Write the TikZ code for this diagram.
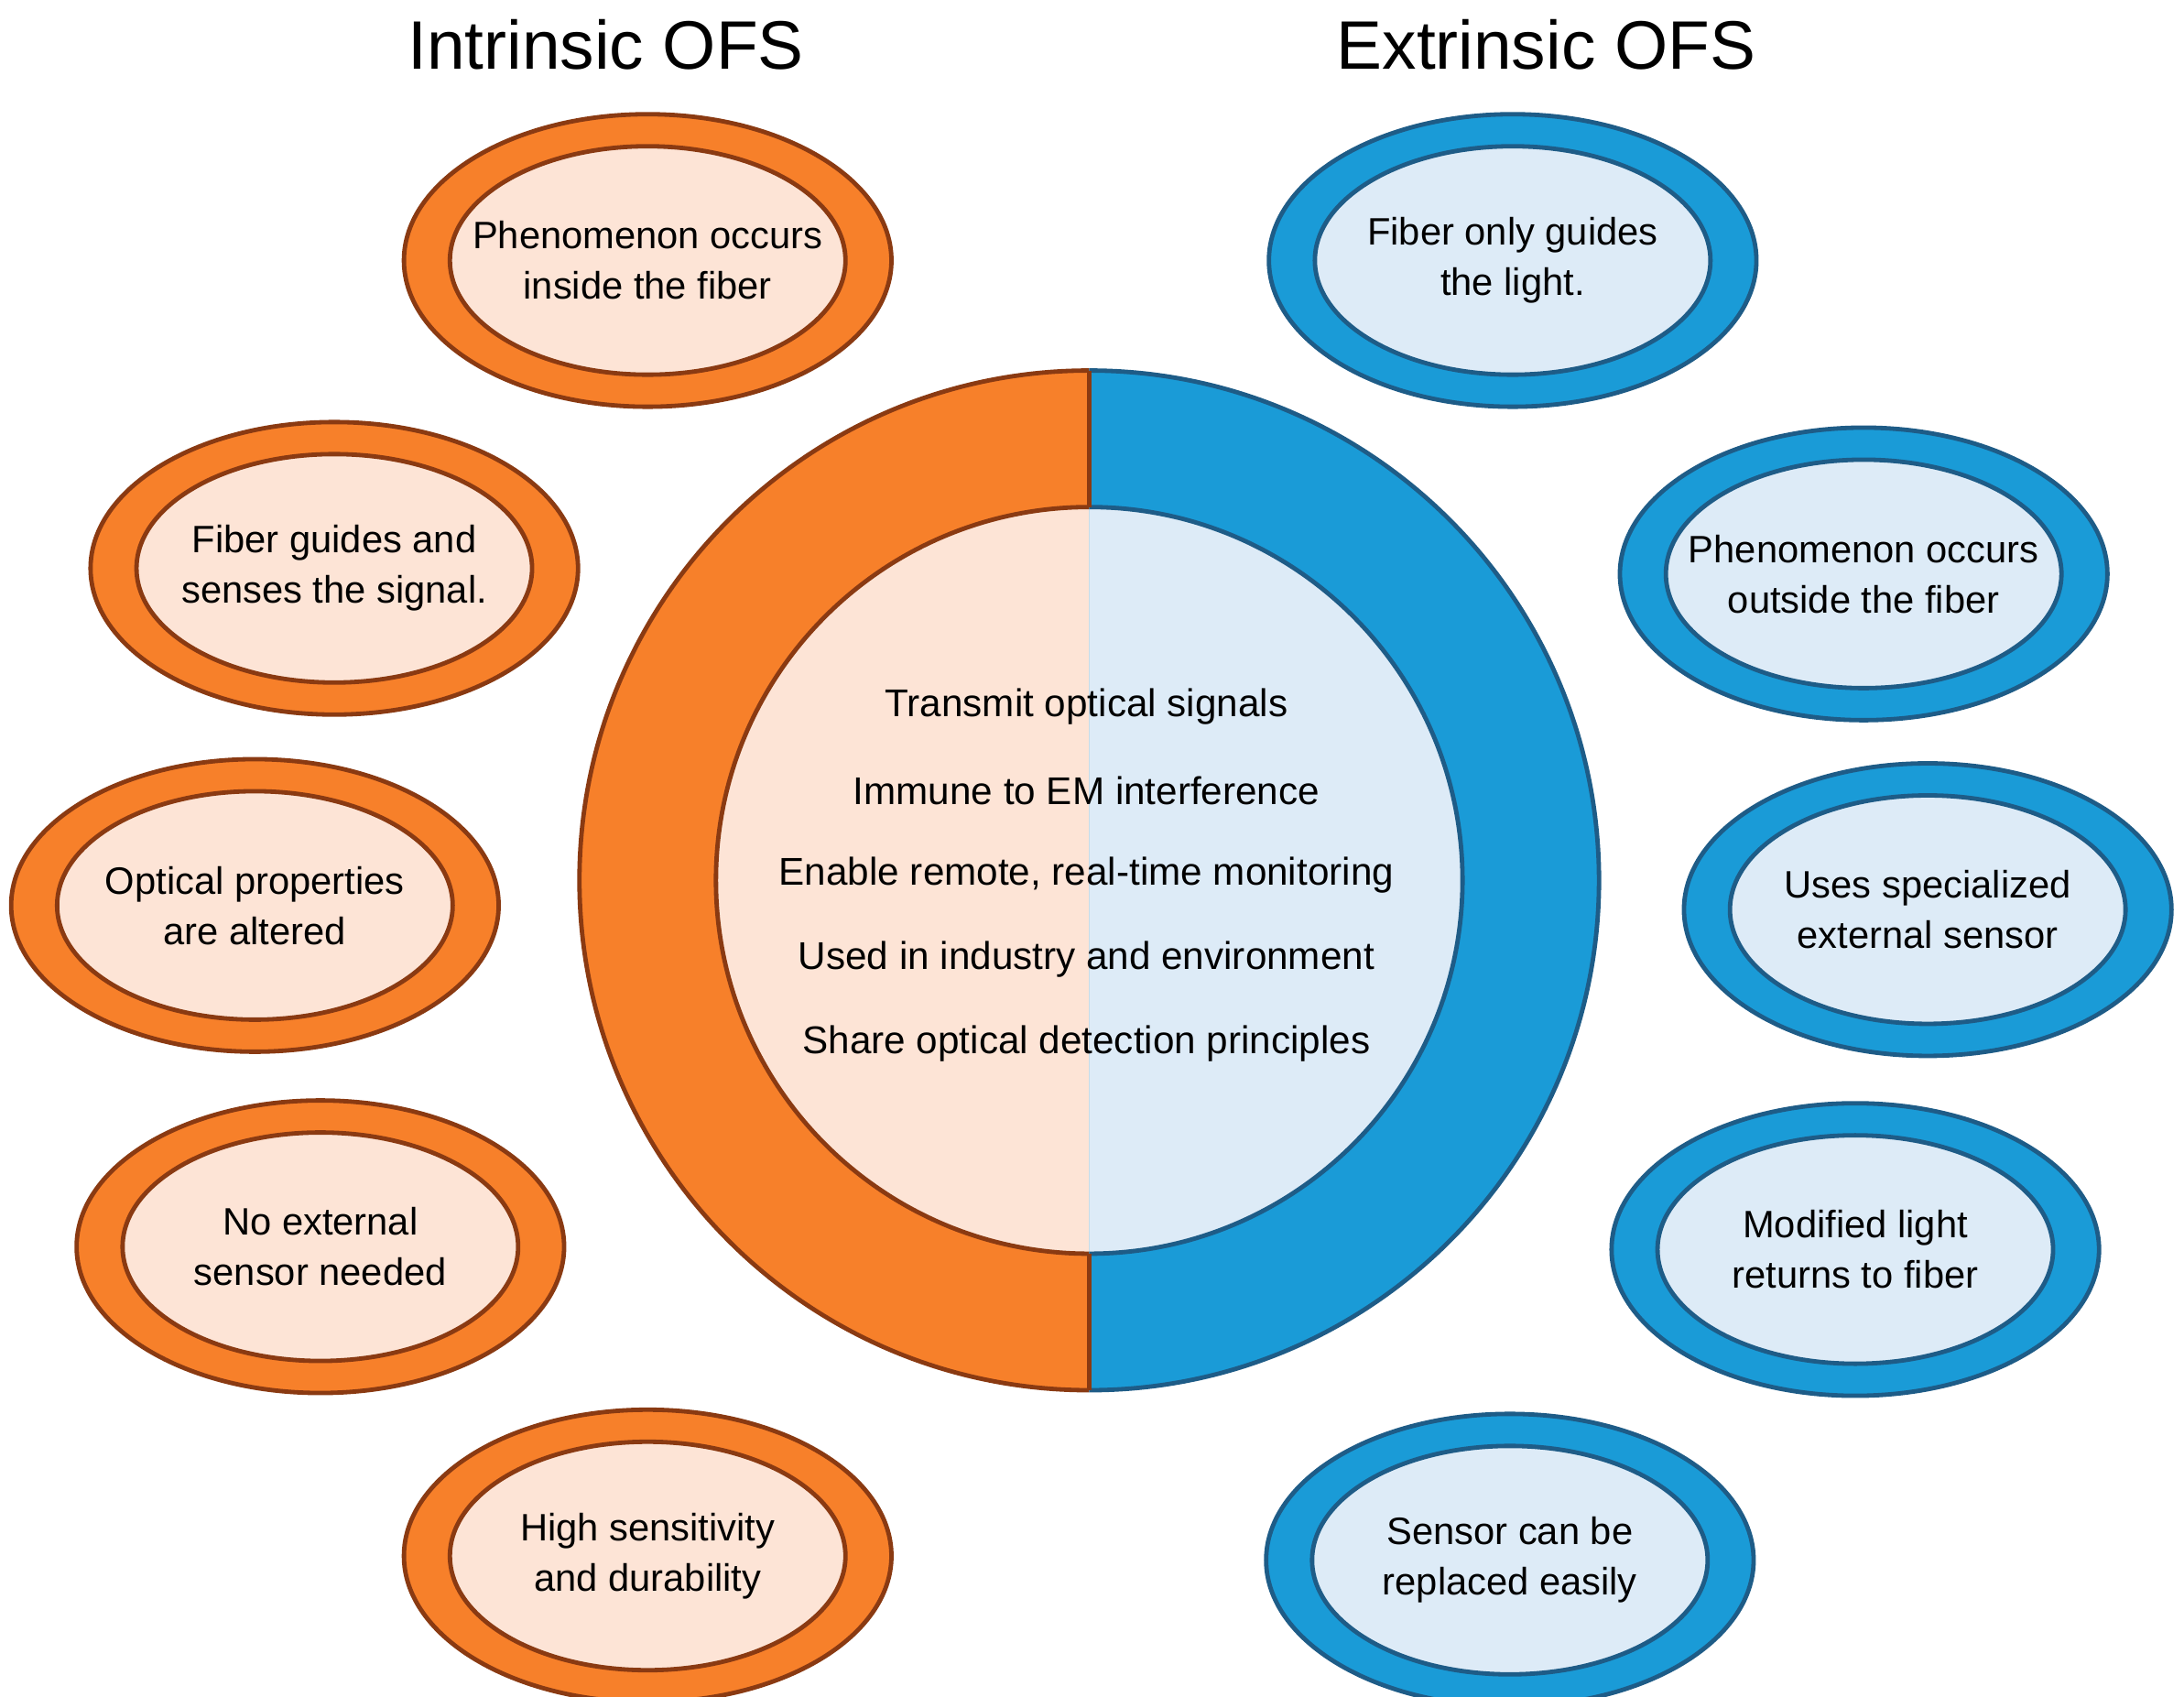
\documentclass[tikz,border=0pt]{standalone}
\usepackage{fontspec}
\setmainfont{Liberation Sans}
\usetikzlibrary{shapes.geometric}
\definecolor{orng}{HTML}{F7802A}
\definecolor{orngdk}{HTML}{8A3A12}
\definecolor{ornglt}{HTML}{FDE4D6}
\definecolor{blu}{HTML}{1A9BD7}
\definecolor{bludk}{HTML}{1E5C87}
\definecolor{blult}{HTML}{DDEBF7}
\tikzset{
  ring/.style={ellipse, minimum width=3.5cm, minimum height=2.1cm, line width=0.9pt, inner sep=0pt},
  core/.style={ellipse, minimum width=2.84cm, minimum height=1.64cm, line width=0.9pt, inner sep=0pt},
  lbl/.style={align=center, font=\fontsize{7.8}{10.3}\selectfont, inner sep=0pt},
  intr/.style={fill=orng, draw=orngdk},
  intrin/.style={fill=ornglt, draw=orngdk},
  extr/.style={fill=blu, draw=bludk},
  extrin/.style={fill=blult, draw=bludk},
  title/.style={font=\fontsize{14}{17}\selectfont}
}
\begin{document}
\begin{tikzpicture}
\useasboundingbox (0,0) rectangle (15.68,12.18);

% titles
\node[title] (ti) at (4.35,11.86) {Intrinsic OFS};
\node[title] (te) at (11.10,11.86) {Extrinsic OFS};

% central ring
\fill[orng] (7.82,5.86) ++(90:3.66) arc (90:270:3.66) -- cycle;
\fill[blu] (7.82,5.86) ++(-90:3.66) arc (-90:90:3.66) -- cycle;
\fill[ornglt] (7.82,5.86) ++(90:2.68) arc (90:270:2.68) -- cycle;
\fill[blult] (7.82,5.86) ++(-90:2.68) arc (-90:90:2.68) -- cycle;
\draw[orngdk, line width=0.9pt] (7.82,5.86) ++(90:3.66) arc (90:270:3.66);
\draw[bludk, line width=0.9pt] (7.82,5.86) ++(-90:3.66) arc (-90:90:3.66);
\draw[orngdk, line width=0.9pt] (7.82,5.86) ++(90:2.68) arc (90:270:2.68);
\draw[bludk, line width=0.9pt] (7.82,5.86) ++(-90:2.68) arc (-90:90:2.68);
\draw[orngdk, line width=0.9pt] (7.82,2.20) -- (7.82,3.18);
\draw[orngdk, line width=0.9pt] (7.82,8.54) -- (7.82,9.52);

\foreach \t [count=\i] in {Transmit optical signals, Immune to EM interference,
  {Enable remote, real-time monitoring}, Used in industry and environment,
  Share optical detection principles}
  \node[font=\fontsize{7.9}{10}\selectfont] (c\i) at (7.80,{7.11-(\i-1)*0.605}) {\t};

% intrinsic side
\foreach \x/\y/\t [count=\i] in {
  4.65/10.31/{Phenomenon occurs\\inside the fiber},
  2.40/8.10/{Fiber guides and\\senses the signal.},
  1.83/5.68/{Optical properties\\are altered},
  2.30/3.23/{No external\\sensor needed},
  4.65/1.01/{High sensitivity\\and durability}}
{
  \node[ring, intr] (io\i) at (\x,\y) {};
  \node[core, intrin] (i\i) at (io\i) {};
  \node[lbl] (it\i) at (i\i) {\t};
}

% extrinsic side
\foreach \x/\y/\t [count=\i] in {
  10.86/10.31/{Fiber only guides\\the light.},
  13.38/8.06/{Phenomenon occurs\\outside the fiber},
  13.84/5.65/{Uses specialized\\external sensor},
  13.32/3.21/{Modified light\\returns to fiber},
  10.84/0.98/{Sensor can be\\replaced easily}}
{
  \node[ring, extr] (eo\i) at (\x,\y) {};
  \node[core, extrin] (e\i) at (eo\i) {};
  \node[lbl] (et\i) at (e\i) {\t};
}

\end{tikzpicture}
\end{document}
